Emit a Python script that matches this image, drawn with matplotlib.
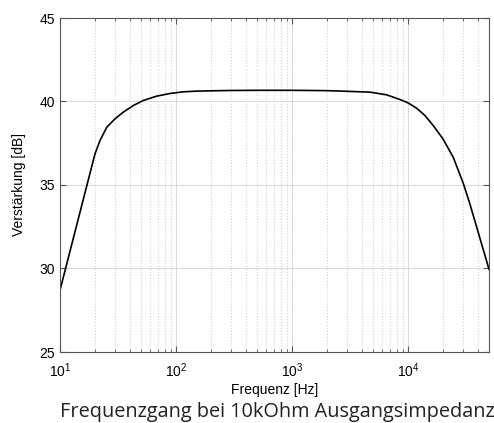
import numpy as np
import matplotlib
matplotlib.use('Agg')
import matplotlib.pyplot as plt
from matplotlib.ticker import LogLocator, NullFormatter

# Messpunkte
freq_hz = [10, 20, 22.1, 25.3, 29.8, 35.1, 42.9, 52.2, 68.1, 88.8, 115.6, 150, 200,
           300, 500, 1000, 2000, 3000, 4700, 6550, 8530, 10000, 11880, 14020, 16530,
           20000, 24550, 30000, 34200, 39080, 50000]
gain_db = [28.7, 36.85, 37.66, 38.46, 38.96, 39.36, 39.76, 40.06, 40.32, 40.48, 40.58, 40.62, 40.64,
           40.66, 40.67, 40.67, 40.65, 40.61, 40.56, 40.40, 40.12, 39.92, 39.60, 39.16, 38.56,
           37.77, 36.67, 35.10, 33.87, 32.50, 29.95]

y_ticks = [25, 30, 35, 40, 45]

plt.rcParams['font.family'] = ['Liberation Sans', 'DejaVu Sans']

fig = plt.figure(figsize=(4.94, 4.23), dpi=100)
ax = fig.add_axes([60/494, 1 - 352/423, (489 - 60)/494, (352 - 18)/423])

ax.semilogx(freq_hz, gain_db, color='black', linewidth=1.2)
ax.set_xlim(10, 50000)
ax.set_ylim(25, 45)
ax.set_yticks(y_ticks)

ax.xaxis.set_major_locator(LogLocator(base=10, numticks=10))
ax.xaxis.set_minor_locator(LogLocator(base=10, subs=np.arange(2, 10), numticks=20))
ax.xaxis.set_minor_formatter(NullFormatter())

ax.grid(True, which='major', color='#d8d8d8', linestyle='-', linewidth=0.7)
ax.grid(True, which='minor', axis='x', color='#d0d0d0', linestyle=':', linewidth=0.8)
ax.set_axisbelow(True)

for s in ax.spines.values():
    s.set_color('#555555')
    s.set_linewidth(0.8)
ax.tick_params(which='both', direction='in', top=True, right=True,
               colors='#555555', labelcolor='black', labelsize=10)
ax.tick_params(which='major', length=4)
ax.tick_params(which='minor', length=2)
ax.tick_params(axis='x', pad=7)

ax.set_xlabel('Frequenz [Hz]', fontsize=10, labelpad=2)
ax.set_ylabel('Verstärkung [dB]', fontsize=10, labelpad=10)

fig.text(277/494, 1 - 412/423, 'Frequenzgang bei 10kOhm Ausgangsimpedanz',
         ha='center', va='center', fontsize=14.3, family=['Open Sans', 'DejaVu Sans'],
         color='#222222')

fig.savefig('out.png', dpi=100)
